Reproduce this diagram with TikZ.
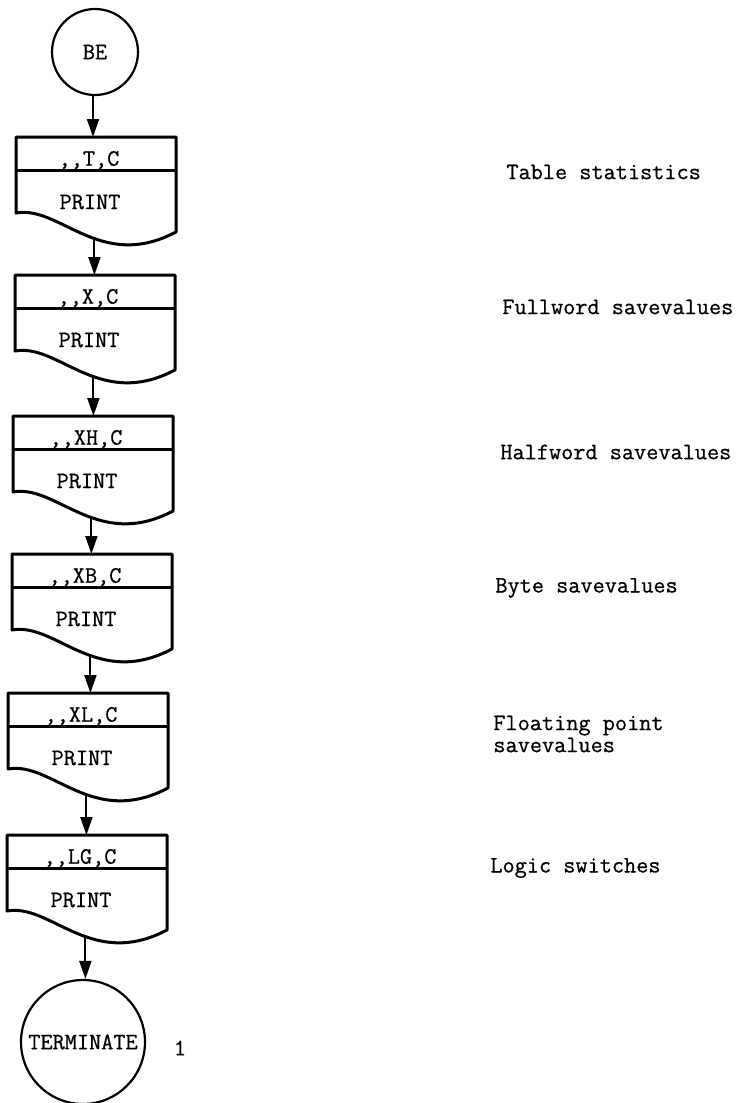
\documentclass[tikz,border=0pt]{standalone}
\usepackage{fontspec}
\newfontfamily\typefont{Latin Modern Mono}[FakeBold=0.7]
\usetikzlibrary{arrows.meta}

\begin{document}
\begin{tikzpicture}[x=0.5pt, y=-0.5pt,
    txt/.style={font=\typefont\fontsize{11.8}{11}\selectfont, inner sep=0pt},
    term/.style={circle, draw, line width=1.1pt, inner sep=0pt, txt},
    blockarea/.style={rectangle, anchor=north west, minimum width=80pt, minimum height=50.5pt, inner sep=0pt},
    boxline/.style={line width=1.5pt, line join=round},
    flow/.style={line width=1pt, -{Triangle[length=9pt,width=6pt]}}]
    \useasboundingbox (0,0) rectangle (742,1103);
    % Start and end
    \node[term, minimum size=43pt] (be) at (95,52) {BE};
    \node[term, minimum size=62pt] (finish) at (83,1042) {TERMINATE};
    \node[txt] (count) at (180,1048) {1};
    % Print blocks with remarks
    \foreach \i/\l/\t/\hd/\lx/\ly/\what in {
        1/16/137/{,,T,C}/506/172/{Table statistics},
        2/15/275/{,,X,C}/502/307/{Fullword savevalues},
        3/13/416/{,,XH,C}/500/452/{Halfword savevalues},
        4/12/554/{,,XB,C}/495/588/{Byte savevalues},
        5/8/693/{,,XL,C}/493/734/{Floating point\\savevalues},
        6/7/835/{,,LG,C}/490/868/{Logic switches}}{
      \node[blockarea] (b\i) at (\l,\t) {};
      \draw[boxline] (\l,\t+76) -- (\l,\t) -- (\l+160,\t) -- (\l+160,\t+95)
        .. controls (\l+84,\t+135) and (\l+44,\t+68) .. (\l,\t+76) -- cycle;
      \draw[boxline] (\l,\t+33) -- (\l+160,\t+33);
      \node[txt] (h\i) at (\l+73,\t+23) {\hd};
      \node[txt] (p\i) at (\l+74,\t+65) {PRINT};
      \node[txt, anchor=west, align=left] (d\i) at (\lx,\ly) {\what};
    }
    % Flow
    \foreach \a/\b in {be/b1,b1/b2,b2/b3,b3/b4,b4/b5,b5/b6,b6/finish}
      \draw[flow] ([xshift=-1pt]\a.south) -- ([xshift=-1pt]\a.south |- \b.north);
  \end{tikzpicture}
\end{document}
